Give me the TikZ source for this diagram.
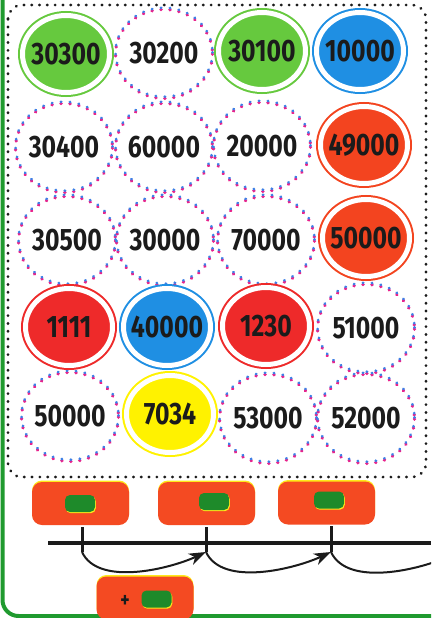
\documentclass[tikz,border=0pt]{standalone}
\usepackage{fontspec}
\usepackage{tikz}
\usetikzlibrary{shapes.geometric,arrows.meta}
\newfontfamily\numfont[FakeStretch=0.8]{Fira Sans}
\definecolor{ink}{HTML}{1B1B1B}
\definecolor{ringgreen}{HTML}{66C93E}
\definecolor{ringblue}{HTML}{1F8FE3}
\definecolor{ringred}{HTML}{EE2A2A}
\definecolor{ringorange}{HTML}{F3441F}
\definecolor{ringyellow}{HTML}{FFF200}
\definecolor{dotblue}{HTML}{3D7FE6}
\definecolor{dotpink}{HTML}{E8228C}
\definecolor{boxred}{HTML}{F44A22}
\definecolor{boxgreen}{HTML}{1E8A2A}
\definecolor{halo}{HTML}{FFE81A}
\definecolor{framegreen}{HTML}{209A2F}

\tikzset{
  numtext/.style={text=ink,font=\numfont\bfseries\fontsize{31}{31}\selectfont},
  ringnode/.style={ellipse,numtext,inner sep=-14pt,minimum width=87pt,minimum height=77pt,
    fill=#1,draw=#1,line width=2pt,double=white,double distance=5pt},
  dotnode/.style={ellipse,numtext,inner sep=-14pt,minimum width=97pt,minimum height=89pt},
  dots/.style={#1,line width=3.3pt,line cap=round,dash pattern=on 0.4pt off 8.6pt},
  redbox/.style={rectangle,rounded corners=10pt,minimum width=97pt,minimum height=43pt,fill=boxred,
    preaction={fill=halo,transform canvas={yshift=1.5pt}}},
  greenbox/.style={rectangle,rounded corners=5pt,minimum width=30pt,minimum height=17pt,fill=boxgreen,
    preaction={fill=halo,transform canvas={shift={(0.8pt,-1.2pt)}}}},
  jump/.style={ink,line width=2pt,-{Stealth[length=17pt,width=12pt,inset=5pt]}}
}

\begin{document}
\begin{tikzpicture}[x=1pt,y=-1pt]
  \clip (0,0) rectangle (431,618);
  \fill[white] (0,0) rectangle (431,618);
  % frames
  \draw[framegreen,line width=4pt,rounded corners=16pt] (2.5,-10) -- (2.5,616) -- (445,616);
  \draw[ink,line width=2.8pt,line cap=round,dash pattern=on 0.4pt off 7.4pt,rounded corners=14pt] (8,5) rectangle (426,477);

  % dotted circles
  \node[dotnode] (n12) at (164,53) {30200};
  \node[dotnode] (n21) at (64,147) {30400};
  \node[dotnode] (n22) at (164,147) {60000};
  \node[dotnode] (n23) at (262,146) {20000};
  \node[dotnode] (n31) at (67,240) {30500};
  \node[dotnode] (n32) at (165,240) {30000};
  \node[dotnode] (n33) at (266,240) {70000};
  \node[dotnode] (n44) at (366,328) {51000};
  \node[dotnode] (n51) at (70,416) {50000};
  \node[dotnode] (n53) at (268,418) {53000};
  \node[dotnode] (n54) at (366,418) {52000};
  \foreach \n in {n12,n21,n22,n23,n31,n32,n33,n44,n51,n53,n54} {
    \draw[dots=dotpink] ([shift={(0,0.9)}]\n.center) ellipse [x radius=48.5, y radius=44.5];
    \draw[dots=dotblue,line width=2.7pt] ([shift={(0,-0.8)}]\n.center) ellipse [x radius=48.5, y radius=44.5];
  }

  % coloured circles
  \node[ringnode=ringgreen] (n11) at (66,54) {30300};
  \node[ringnode=ringgreen] (n13) at (262,51) {30100};
  \node[ringnode=ringblue] (n14) at (360,51) {10000};
  \node[ringnode=ringorange] (n24) at (364,145) {49000};
  \node[ringnode=ringorange] (n34) at (366,238) {50000};
  \node[ringnode=ringred] (n41) at (69,327) {1111};
  \node[ringnode=ringblue] (n42) at (167,327) {40000};
  \node[ringnode=ringred] (n43) at (266,326) {1230};
  \node[ringnode=ringyellow] (n52) at (170,414) {7034};

  % boxes
  \node[redbox] (b1) at (80.5,503.5) {};
  \node[redbox] (b2) at (206.5,503.5) {};
  \node[redbox] (b3) at (326.5,503) {};
  \node[redbox] (b4) at (145,598) {};
  \node[greenbox] (g1) at (80,503.5) {};
  \node[greenbox] (g2) at (214,501.5) {};
  \node[greenbox] (g3) at (329,500) {};
  \node[greenbox] (g4) at (156.5,599) {};
  \node[text=ink,font=\numfont\bfseries\fontsize{22}{22}\selectfont] (plus) at (125,601) {+};

  % number line
  \coordinate (start) at (48,543);
  \coordinate (end) at (431,543);
  \coordinate (t1top) at (82,527);
  \coordinate (t1) at (82,552);
  \coordinate (t2top) at (206,527);
  \coordinate (t2) at (206,552);
  \coordinate (t3top) at (331,526);
  \coordinate (t3) at (331,552);
  \coordinate (t4) at (458,552);
  \draw[ink,line width=4pt] (start) -- (end);
  \draw[ink,line width=3pt] (t1top) -- (t1);
  \draw[ink,line width=3pt] (t2top) -- (t2);
  \draw[ink,line width=3pt] (t3top) -- (t3);
  \draw[jump] (t1) to[out=-65,in=-155,looseness=0.8] (t2);
  \draw[jump] (t2) to[out=-65,in=-155,looseness=0.8] (t3);
  \draw[jump] (t3) to[out=-65,in=-155,looseness=0.8] (t4);
\end{tikzpicture}
\end{document}
